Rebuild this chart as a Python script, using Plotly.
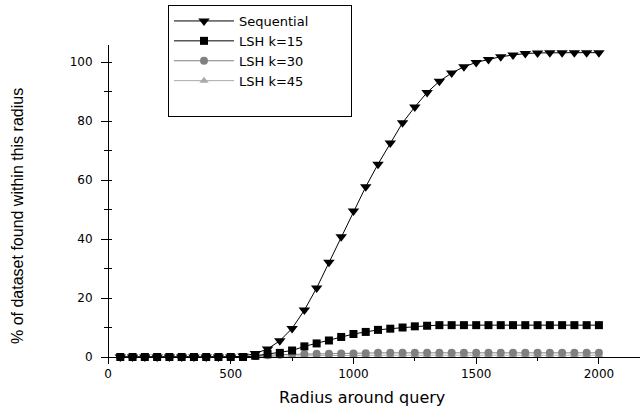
import plotly.graph_objects as go

radius = [50, 100, 150, 200, 250, 300, 350, 400, 450, 500,
          550, 600, 650, 700, 750, 800, 850, 900, 950, 1000,
          1050, 1100, 1150, 1200, 1250, 1300, 1350, 1400, 1450, 1500,
          1550, 1600, 1650, 1700, 1750, 1800, 1850, 1900, 1950, 2000]

sequential = [0, 0, 0, 0, 0, 0, 0, 0, 0, 0,
              0.3, 1.2, 2.7, 5.5, 9.7, 15.9, 23.4, 32.1, 40.8, 49.5,
              57.7, 65.4, 72.6, 79.4, 84.8, 89.7, 93.5, 96.3, 98.4, 99.9,
              100.9, 101.8, 102.4, 102.9, 103.1, 103.2, 103.2, 103.2, 103.2, 103.2]

lsh15 = [0, 0, 0, 0, 0, 0, 0, 0, 0, 0,
         0, 0.4, 1.0, 1.4, 2.2, 3.6, 4.6, 5.6, 6.8, 7.8,
         8.5, 9.2, 9.6, 10.0, 10.4, 10.6, 10.8, 10.8, 10.8, 10.8,
         10.8, 10.8, 10.8, 10.8, 10.8, 10.8, 10.8, 10.8, 10.8, 10.8]

lsh30 = [0, 0, 0, 0, 0, 0, 0, 0, 0, 0,
         0, 0.3, 0.6, 0.8, 0.9, 1.0, 1.1, 1.1, 1.2, 1.2,
         1.3, 1.4, 1.4, 1.4, 1.4, 1.4, 1.4, 1.4, 1.4, 1.4,
         1.4, 1.4, 1.4, 1.4, 1.4, 1.4, 1.4, 1.4, 1.4, 1.4]

lsh45 = [0, 0, 0, 0, 0, 0, 0, 0, 0, 0,
         0, 0, 0.2, 0.3, 0.4, 0.4, 0.5, 0.5, 0.5, 0.6,
         0.6, 0.6, 0.6, 0.6, 0.6, 0.6, 0.6, 0.6, 0.6, 0.6,
         0.6, 0.6, 0.6, 0.6, 0.6, 0.6, 0.6, 0.6, 0.6, 0.6]

series_names = ["Sequential", "LSH k=15", "LSH k=30", "LSH k=45"]
x_ticks = [0, 500, 1000, 1500, 2000]
y_ticks = [0, 20, 40, 60, 80, 100]

FONT = "DejaVu Sans"
PAD = "\u00a0" * 9  # widens the legend box to the reference's width

fig = go.Figure()

# spacer entry (shown last in the reversed legend) for the empty bottom area
fig.add_trace(go.Scatter(x=[None], y=[None], name=" ", mode="markers",
                         marker=dict(color="rgba(0,0,0,0)"), hoverinfo="skip"))

series = [
    (series_names[3], lsh45, "#a9a9a9", "triangle-up", 8),
    (series_names[2], lsh30, "#808080", "circle", 8),
    (series_names[1], lsh15, "#000000", "square", 8),
    (series_names[0] + PAD, sequential, "#000000", "triangle-down", 10),
]
for name, vals, col, sym, sz in series:
    fig.add_trace(go.Scatter(
        x=radius, y=vals, name=name, mode="lines+markers",
        line=dict(color=col, width=1),
        marker=dict(symbol=sym, size=sz, color=col),
        cliponaxis=False,
    ))

W, H = 641, 408
L, R, T, B = 101, 1, 45, 51
pw = W - L - R
ph = H - T - B

yr = [0, 105.8]
ypos = 7 / pw

fig.update_layout(
    width=W, height=H,
    margin=dict(l=L, r=R, t=T, b=B, pad=0),
    paper_bgcolor="white", plot_bgcolor="white",
    font=dict(family=FONT, size=12, color="black"),
    showlegend=True,
    legend=dict(
        x=(168 - L) / pw, y=(H - B - 5) / ph, xanchor="left", yanchor="top",
        bgcolor="white", bordercolor="black", borderwidth=1,
        font=dict(family=FONT, size=13, color="black"),
        traceorder="reversed", itemwidth=60, tracegroupgap=0,
    ),
    xaxis=dict(
        range=[-(108 - L) / 0.245, (W - R - 1 - 108) / 0.245],
        tickvals=x_ticks, ticks="outside", ticklen=6, tickcolor="black",
        showline=True, linecolor="black", linewidth=1,
        showgrid=False, zeroline=True, zerolinecolor="black", zerolinewidth=1,
        minor=dict(dtick=250, tick0=0, ticks="outside", ticklen=3, tickcolor="black"),
        tickfont=dict(family=FONT, size=12),
    ),
    yaxis=dict(
        range=yr, tickvals=y_ticks, ticks="outside", ticklen=7, tickcolor="black",
        anchor="free", position=ypos, showline=False, showgrid=False, zeroline=False,
        minor=dict(dtick=10, tick0=0, ticks="outside", ticklen=4, tickcolor="black"),
        tickfont=dict(family=FONT, size=12), ticklabelstandoff=6,
    ),
    yaxis2=dict(
        range=yr, tickvals=y_ticks, ticks="inside", ticklen=3, tickcolor="black",
        overlaying="y", anchor="free", position=ypos, showticklabels=False,
        showline=False, showgrid=False, zeroline=False,
        minor=dict(dtick=10, tick0=0, ticks="inside", ticklen=3, tickcolor="black"),
    ),
    annotations=[
        dict(text="Radius around query", xref="paper", yref="paper",
             x=(362 - L) / pw, y=(H - B - 397) / ph, xanchor="center", yanchor="middle",
             showarrow=False, font=dict(family=FONT, size=16, color="black")),
        dict(text="% of dataset found within this radius", xref="paper", yref="paper",
             x=(17 - L) / pw, y=(H - B - 216) / ph, xanchor="center", yanchor="middle",
             textangle=-90, showarrow=False,
             font=dict(family="Liberation Sans", size=16, color="black")),
    ],
)

# dummy trace on yaxis2 so the overlay axis is drawn
fig.add_trace(go.Scatter(x=[None], y=[None], yaxis="y2", showlegend=False, hoverinfo="skip"))

fig.write_html("out.html")
